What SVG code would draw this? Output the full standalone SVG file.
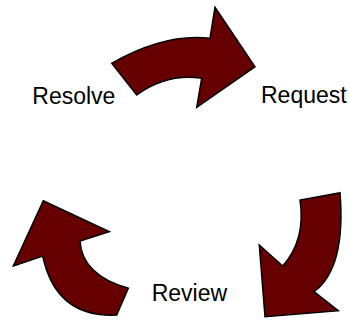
<svg xmlns="http://www.w3.org/2000/svg" width="350" height="325" viewBox="0 0 350 325">
<style>
.arrow{fill:#660000;stroke:#000;stroke-width:1.5;stroke-linejoin:miter}
.lbl{font-family:"Liberation Sans",Arial,sans-serif;font-size:23px;fill:#000}
</style>
<rect width="350" height="325" fill="#fff"/>
<g id="connectors">
<path id="arrow-resolve-request" class="arrow" d="M111.7,63.3 Q165,33 210,38.3 L215,7.3 L255,66.7 L196.7,107.3 L201.7,78.3 Q167,73 136.7,95 Z"/>
<path id="arrow-request-review" class="arrow" d="M340,192.7 L300,200 Q306,240 282.7,266 L259.3,245 L265,316.7 L338.3,310.7 L314,291.7 Q346,268 340,192.7 Z"/>
<path id="arrow-review-resolve" class="arrow" d="M116.7,315 Q56,318 42.7,256 L13.3,266 L43.3,200.7 L109.3,231.7 L80,241 Q82,275 128.3,288.3 Z"/>
</g>
<g id="node-resolve"><text class="lbl" x="32.3" y="103.5">Resolve</text></g>
<g id="node-request"><text class="lbl" x="261" y="103">Request</text></g>
<g id="node-review"><text class="lbl" x="151.7" y="301">Review</text></g>
</svg>
